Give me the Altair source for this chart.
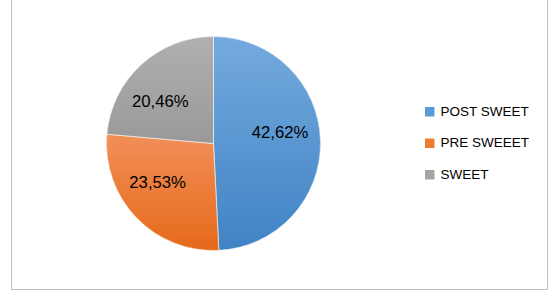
import altair as alt
import pandas as pd

# ---- data ----
categories = ["POST SWEET", "PRE SWEEET", "SWEET"]
values = [42.62, 23.53, 20.46]
labels = ["42,62%", "23,53%", "20,46%"]

# ---- styles ----
legend_colors = ["#5B9BD5", "#ED7D31", "#A5A5A5"]
grad_top = ["#74aade", "#f18f58", "#b0b0b0"]
grad_bottom = ["#4083c4", "#e6691a", "#999999"]
label_offsets = [(-1.5, -8.7), (-6.9, -7.4), (-7.3, 8.9)]
CX, CY, R = 213.5, 143.5, 107
FONT = "Liberation Sans"

df = pd.DataFrame({"cat": categories, "value": values, "label": labels,
                   "order": list(range(len(categories)))})

base = (
    alt.Chart(df)
    .transform_joinaggregate(total="sum(value)")
    .transform_window(cum="sum(value)", sort=[alt.SortField("order")], frame=[None, 0])
    .transform_calculate(
        start="(datum.cum - datum.value) / datum.total",
        end="datum.cum / datum.total",
        mid="(datum.cum - datum.value / 2) / datum.total",
    )
)

theta_scale = alt.Scale(domain=[0, 1], nice=False, zero=True)

legend_arc = base.mark_arc(x=CX, y=CY, outerRadius=R).encode(
    theta=alt.Theta("start:Q", scale=theta_scale),
    theta2="end:Q",
    color=alt.Color(
        "cat:N",
        scale=alt.Scale(domain=categories, range=legend_colors),
        legend=alt.Legend(
            title=None, orient="none", legendX=423, legendY=105,
            symbolType="square", symbolSize=90, symbolStrokeWidth=0,
            labelFont=FONT, labelFontSize=13.5, labelColor="#000000",
            rowPadding=16.5, labelOffset=4,
        ),
    ),
)

layers = []
for i, cat in enumerate(categories):
    grad = alt.LinearGradient(
        gradient="linear",
        stops=[alt.GradientStop(offset=0, color=grad_top[i]),
               alt.GradientStop(offset=1, color=grad_bottom[i])],
        x1=0, x2=0, y1=0, y2=1,
    )
    layers.append(
        base.transform_filter(alt.datum.cat == cat)
        .mark_arc(x=CX, y=CY, outerRadius=R, fill=grad, stroke="white", strokeWidth=0.6)
        .encode(theta=alt.Theta("start:Q", scale=theta_scale), theta2="end:Q")
    )

texts = []
for i, cat in enumerate(categories):
    dx, dy = label_offsets[i]
    texts.append(
        base.transform_filter(alt.datum.cat == cat)
        .mark_text(x=CX, y=CY, radius=68, dx=dx, dy=dy, font=FONT, fontSize=16.7,
                   color="#000000", align="center", baseline="middle")
        .encode(theta=alt.Theta("mid:Q", scale=theta_scale), text="label:N")
    )

frame = alt.Chart(pd.DataFrame({"a": [0]})).mark_rect(
    filled=False, stroke="#bfbfbf", strokeWidth=1
).encode(x=alt.value(11.5), x2=alt.value(547.5), y=alt.value(-5), y2=alt.value(289.5))

chart = alt.layer(frame, legend_arc, *layers, *texts).properties(
    width=556, height=298,
    autosize=alt.AutoSizeParams(type="none"),
    padding=0,
).configure_view(stroke=None)

chart.save("out.html", embed_options={"renderer": "svg", "actions": False})
